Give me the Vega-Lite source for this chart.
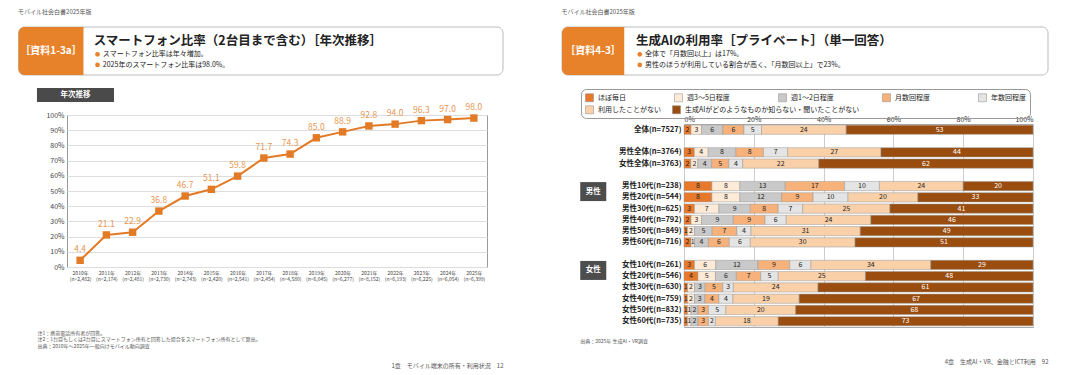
{
  "$schema": "https://vega.github.io/schema/vega-lite/v6.json",
  "background": "white",
  "padding": {"left": 18, "top": 8, "right": 5, "bottom": 5},
  "config": {
    "font": "Noto Sans CJK JP",
    "view": {"stroke": null},
    "title": {"font": "Noto Sans CJK JP", "subtitleFont": "Noto Sans CJK JP"},
    "axis": {"labelFont": "Noto Sans CJK JP", "titleFont": "Noto Sans CJK JP"},
    "legend": {"labelFont": "Noto Sans CJK JP", "titleFont": "Noto Sans CJK JP"},
    "text": {"font": "Noto Sans CJK JP"}
  },
  "datasets": {
    "headL": [{"tag": "［資料1-3a］", "title": "スマートフォン比率（2台目まで含む）［年次推移］", "b1": "スマートフォン比率は年々増加。", "b2": "2025年のスマートフォン比率は98.0%。", "sub": "年次推移"}],
    "headR": [{"tag": "［資料4-3］", "title": "生成AIの利用率［プライベート］（単一回答）", "b1": "全体で「月数回以上」は17%。", "b2": "男性のほうが利用している割合が高く、「月数回以上」で23%。"}],
    "smart": [
      {"x": "2010年|(n=2,482)", "v": 4.4},
      {"x": "2011年|(n=2,174)", "v": 21.1},
      {"x": "2012年|(n=2,481)", "v": 22.9},
      {"x": "2013年|(n=2,730)", "v": 36.8},
      {"x": "2014年|(n=2,743)", "v": 46.7},
      {"x": "2015年|(n=2,420)", "v": 51.1},
      {"x": "2016年|(n=2,541)", "v": 59.8},
      {"x": "2017年|(n=2,454)", "v": 71.7},
      {"x": "2018年|(n=4,580)", "v": 74.3},
      {"x": "2019年|(n=6,045)", "v": 85.0},
      {"x": "2020年|(n=6,277)", "v": 88.9},
      {"x": "2021年|(n=8,152)", "v": 92.8},
      {"x": "2022年|(n=6,193)", "v": 94.0},
      {"x": "2023年|(n=6,225)", "v": 96.3},
      {"x": "2024年|(n=6,054)", "v": 97.0},
      {"x": "2025年|(n=6,399)", "v": 98.0}
    ],
    "cats": [
      {"c": "ほぼ毎日", "k": 0},
      {"c": "週3～5日程度", "k": 1},
      {"c": "週1～2日程度", "k": 2},
      {"c": "月数回程度", "k": 3},
      {"c": "年数回程度", "k": 4},
      {"c": "利用したことがない", "k": 5},
      {"c": "生成AIがどのようなものか知らない・聞いたことがない", "k": 6}
    ],
    "ai": [
      {"g": "全体(n=7527)", "ほぼ毎日": 2, "週3～5日程度": 3, "週1～2日程度": 6, "月数回程度": 6, "年数回程度": 5, "利用したことがない": 24, "生成AIがどのようなものか知らない・聞いたことがない": 53},
      {"g": "男性全体(n=3764)", "ほぼ毎日": 3, "週3～5日程度": 4, "週1～2日程度": 8, "月数回程度": 8, "年数回程度": 7, "利用したことがない": 27, "生成AIがどのようなものか知らない・聞いたことがない": 44},
      {"g": "女性全体(n=3763)", "ほぼ毎日": 2, "週3～5日程度": 2, "週1～2日程度": 4, "月数回程度": 5, "年数回程度": 4, "利用したことがない": 22, "生成AIがどのようなものか知らない・聞いたことがない": 62},
      {"g": "男性10代(n=238)", "ほぼ毎日": 8, "週3～5日程度": 8, "週1～2日程度": 13, "月数回程度": 17, "年数回程度": 10, "利用したことがない": 24, "生成AIがどのようなものか知らない・聞いたことがない": 20},
      {"g": "男性20代(n=544)", "ほぼ毎日": 8, "週3～5日程度": 8, "週1～2日程度": 12, "月数回程度": 9, "年数回程度": 10, "利用したことがない": 20, "生成AIがどのようなものか知らない・聞いたことがない": 33},
      {"g": "男性30代(n=625)", "ほぼ毎日": 3, "週3～5日程度": 7, "週1～2日程度": 9, "月数回程度": 8, "年数回程度": 7, "利用したことがない": 25, "生成AIがどのようなものか知らない・聞いたことがない": 41},
      {"g": "男性40代(n=792)", "ほぼ毎日": 2, "週3～5日程度": 3, "週1～2日程度": 9, "月数回程度": 9, "年数回程度": 6, "利用したことがない": 24, "生成AIがどのようなものか知らない・聞いたことがない": 46},
      {"g": "男性50代(n=849)", "ほぼ毎日": 1, "週3～5日程度": 2, "週1～2日程度": 5, "月数回程度": 7, "年数回程度": 4, "利用したことがない": 31, "生成AIがどのようなものか知らない・聞いたことがない": 49},
      {"g": "男性60代(n=716)", "ほぼ毎日": 2, "週3～5日程度": 1, "週1～2日程度": 4, "月数回程度": 6, "年数回程度": 6, "利用したことがない": 30, "生成AIがどのようなものか知らない・聞いたことがない": 51},
      {"g": "女性10代(n=261)", "ほぼ毎日": 3, "週3～5日程度": 6, "週1～2日程度": 12, "月数回程度": 9, "年数回程度": 6, "利用したことがない": 34, "生成AIがどのようなものか知らない・聞いたことがない": 29},
      {"g": "女性20代(n=546)", "ほぼ毎日": 4, "週3～5日程度": 5, "週1～2日程度": 6, "月数回程度": 7, "年数回程度": 5, "利用したことがない": 25, "生成AIがどのようなものか知らない・聞いたことがない": 48},
      {"g": "女性30代(n=630)", "ほぼ毎日": 1, "週3～5日程度": 2, "週1～2日程度": 3, "月数回程度": 5, "年数回程度": 3, "利用したことがない": 24, "生成AIがどのようなものか知らない・聞いたことがない": 61},
      {"g": "女性40代(n=759)", "ほぼ毎日": 1, "週3～5日程度": 2, "週1～2日程度": 3, "月数回程度": 4, "年数回程度": 4, "利用したことがない": 19, "生成AIがどのようなものか知らない・聞いたことがない": 67},
      {"g": "女性50代(n=832)", "ほぼ毎日": 1, "週3～5日程度": 1, "週1～2日程度": 2, "月数回程度": 3, "年数回程度": 5, "利用したことがない": 20, "生成AIがどのようなものか知らない・聞いたことがない": 68},
      {"g": "女性60代(n=735)", "ほぼ毎日": 1, "週3～5日程度": 1, "週1～2日程度": 2, "月数回程度": 3, "年数回程度": 2, "利用したことがない": 18, "生成AIがどのようなものか知らない・聞いたことがない": 73}
    ],
    "grp": [
      {"grp": "男性", "at": "男性10代(n=238)"},
      {"grp": "女性", "at": "女性10代(n=261)"}
    ]
  },
  "spacing": 57,
  "resolve": {"scale": {"color": "independent"}, "legend": {"color": "independent"}},
  "hconcat": [
    {
      "title": {"text": "1章　モバイル端末の所有・利用状況　12", "orient": "bottom", "anchor": "end", "frame": "bounds", "fontSize": 6, "fontWeight": "normal", "color": "#555", "offset": 14},
      "spacing": 0,
      "vconcat": [
        {
          "width": 436,
          "height": 48,
          "title": {"text": "モバイル社会白書2025年版", "anchor": "start", "frame": "bounds", "fontSize": 6, "fontWeight": "normal", "color": "#555", "offset": 12},
          "data": {"name": "headL"},
          "layer": [
            {"mark": {"type": "rect", "fill": "white", "stroke": "#bbb", "strokeWidth": 1, "cornerRadius": 6},
             "encoding": {"x": {"datum": 0, "type": "quantitative", "scale": {"domain": [0.1, 1], "nice": false, "zero": false}, "axis": null}, "x2": {"datum": 1}, "y": {"datum": 0, "type": "quantitative", "scale": {"domain": [0, 1], "nice": false, "zero": false}, "axis": null}, "y2": {"datum": 1}}},
            {"mark": {"type": "rect", "fill": "#E8822A", "cornerRadiusTopLeft": 6, "cornerRadiusBottomLeft": 6},
             "encoding": {"x": {"datum": 0, "type": "quantitative", "axis": null}, "x2": {"datum": 0.134}, "y": {"datum": 0, "type": "quantitative", "axis": null}, "y2": {"datum": 1}}},
            {"mark": {"type": "text", "color": "white", "fontSize": 10, "fontWeight": "bold"},
             "encoding": {"x": {"datum": 0.067, "type": "quantitative", "axis": null}, "y": {"datum": 0.5, "type": "quantitative", "axis": null}, "text": {"field": "tag"}}},
            {"mark": {"type": "text", "align": "left", "baseline": "middle", "fontSize": 12.5, "fontWeight": "bold", "color": "#222"},
             "encoding": {"x": {"datum": 0.155, "type": "quantitative", "axis": null}, "y": {"datum": 0.71, "type": "quantitative", "axis": null}, "text": {"field": "title"}}},
            {"mark": {"type": "point", "filled": true, "opacity": 1, "size": 22, "color": "#E8822A"},
             "encoding": {"x": {"datum": 0.163, "type": "quantitative", "axis": null}, "y": {"datum": 0.43, "type": "quantitative", "axis": null}}},
            {"mark": {"type": "point", "filled": true, "opacity": 1, "size": 22, "color": "#E8822A"},
             "encoding": {"x": {"datum": 0.163, "type": "quantitative", "axis": null}, "y": {"datum": 0.21, "type": "quantitative", "axis": null}}},
            {"mark": {"type": "text", "align": "left", "baseline": "middle", "fontSize": 7, "color": "#222"},
             "encoding": {"x": {"datum": 0.174, "type": "quantitative", "axis": null}, "y": {"datum": 0.43, "type": "quantitative", "axis": null}, "text": {"field": "b1"}}},
            {"mark": {"type": "text", "align": "left", "baseline": "middle", "fontSize": 7, "color": "#222"},
             "encoding": {"x": {"datum": 0.174, "type": "quantitative", "axis": null}, "y": {"datum": 0.21, "type": "quantitative", "axis": null}, "text": {"field": "b2"}}},
            {"mark": {"type": "rect", "fill": "#4a4a4a"},
             "encoding": {"x": {"datum": 0.038, "type": "quantitative", "axis": null}, "x2": {"datum": 0.197}, "y": {"datum": -0.271, "type": "quantitative", "axis": null}, "y2": {"datum": -0.5625}}},
            {"mark": {"type": "text", "color": "white", "fontSize": 7.5, "fontWeight": "bold", "baseline": "middle"},
             "encoding": {"x": {"datum": 0.1175, "type": "quantitative", "axis": null}, "y": {"datum": -0.417, "type": "quantitative", "axis": null}, "text": {"field": "sub"}}}
          ]
        },
        {
          "width": 420,
          "height": 152,
          "view": {"stroke": "#999"},
          "data": {"name": "smart"},
          "encoding": {
            "x": {"field": "x", "type": "ordinal", "sort": null, "scale": {"type": "point", "padding": 0.5},
                  "axis": {"labelExpr": "split(datum.label, '|')", "labelAngle": 0, "labelFontSize": 5, "labelLineHeight": 6, "labelColor": "#444", "ticks": false, "domain": false, "labelPadding": 3,
                           "title": ["注1：携帯電話所有者が回答。", "注2：1台目もしくは2台目にスマートフォン所有と回答した場合をスマートフォン所有として算出。", "出典：2010年～2025年一般向けモバイル動向調査"],
                           "titleX": -30, "titleAlign": "left", "titleAnchor": "start", "titleFontSize": 5, "titleFontWeight": "normal", "titleColor": "#555", "titlePadding": 49, "titleLineHeight": 6.5}},
            "y": {"field": "v", "type": "quantitative", "scale": {"domain": [0, 100]},
                  "axis": {"values": [0, 10, 20, 30, 40, 50, 60, 70, 80, 90, 100], "labelExpr": "datum.value + '%'", "labelFontSize": 7, "labelColor": "#444", "gridColor": "#ddd", "ticks": false, "domain": false, "title": null, "labelPadding": 3}}
          },
          "layer": [
            {"mark": {"type": "line", "color": "#E37A25", "strokeWidth": 2}},
            {"mark": {"type": "point", "shape": "square", "filled": true, "opacity": 1, "size": 55, "color": "#E37A25"}},
            {"mark": {"type": "text", "dy": -11, "fontSize": 8.5, "color": "#E8954F"},
             "encoding": {"text": {"field": "v", "type": "quantitative", "format": ".1f"}}}
          ]
        }
      ]
    },
    {
      "title": {"text": "4章　生成AI・VR、金融とICT利用　92", "orient": "bottom", "anchor": "end", "frame": "bounds", "fontSize": 6, "fontWeight": "normal", "color": "#555", "offset": 14},
      "spacing": 12,
      "resolve": {"scale": {"color": "independent"}, "legend": {"color": "independent"}},
      "vconcat": [
        {
          "width": 364,
          "height": 48,
          "title": {"text": "モバイル社会白書2025年版", "anchor": "start", "frame": "bounds", "fontSize": 6, "fontWeight": "normal", "color": "#555", "offset": 12},
          "data": {"name": "headR"},
          "layer": [
            {"mark": {"type": "rect", "fill": "white", "stroke": "#bbb", "strokeWidth": 1, "cornerRadius": 6},
             "encoding": {"x": {"datum": 0, "type": "quantitative", "scale": {"domain": [0.251, 1], "nice": false, "zero": false}, "axis": null}, "x2": {"datum": 1}, "y": {"datum": 0, "type": "quantitative", "scale": {"domain": [0, 1], "nice": false}, "axis": null}, "y2": {"datum": 1}}},
            {"mark": {"type": "rect", "fill": "#E8822A", "cornerRadiusTopLeft": 6, "cornerRadiusBottomLeft": 6},
             "encoding": {"x": {"datum": 0, "type": "quantitative", "axis": null}, "x2": {"datum": 0.128}, "y": {"datum": 0, "type": "quantitative", "axis": null}, "y2": {"datum": 1}}},
            {"mark": {"type": "text", "color": "white", "fontSize": 10, "fontWeight": "bold"},
             "encoding": {"x": {"datum": 0.064, "type": "quantitative", "axis": null}, "y": {"datum": 0.5, "type": "quantitative", "axis": null}, "text": {"field": "tag"}}},
            {"mark": {"type": "text", "align": "left", "baseline": "middle", "fontSize": 12.5, "fontWeight": "bold", "color": "#222"},
             "encoding": {"x": {"datum": 0.152, "type": "quantitative", "axis": null}, "y": {"datum": 0.71, "type": "quantitative", "axis": null}, "text": {"field": "title"}}},
            {"mark": {"type": "point", "filled": true, "opacity": 1, "size": 22, "color": "#E8822A"},
             "encoding": {"x": {"datum": 0.16, "type": "quantitative", "axis": null}, "y": {"datum": 0.43, "type": "quantitative", "axis": null}}},
            {"mark": {"type": "point", "filled": true, "opacity": 1, "size": 22, "color": "#E8822A"},
             "encoding": {"x": {"datum": 0.16, "type": "quantitative", "axis": null}, "y": {"datum": 0.21, "type": "quantitative", "axis": null}}},
            {"mark": {"type": "text", "align": "left", "baseline": "middle", "fontSize": 7, "color": "#222"},
             "encoding": {"x": {"datum": 0.171, "type": "quantitative", "axis": null}, "y": {"datum": 0.43, "type": "quantitative", "axis": null}, "text": {"field": "b1"}}},
            {"mark": {"type": "text", "align": "left", "baseline": "middle", "fontSize": 7, "color": "#222"},
             "encoding": {"x": {"datum": 0.171, "type": "quantitative", "axis": null}, "y": {"datum": 0.21, "type": "quantitative", "axis": null}, "text": {"field": "b2"}}}
          ]
        },
        {
          "width": 349,
          "height": 203,
          "view": {"stroke": "#aaa"},
          "title": {"text": "出典：2025年 生成AI・VR調査", "orient": "bottom", "anchor": "start", "frame": "bounds", "fontSize": 5, "fontWeight": "normal", "color": "#555", "offset": 12},
          "layer": [
            {
              "data": {"name": "ai"},
              "transform": [
                {"fold": ["ほぼ毎日", "週3～5日程度", "週1～2日程度", "月数回程度", "年数回程度", "利用したことがない", "生成AIがどのようなものか知らない・聞いたことがない"], "as": ["c", "v"]},
                {"lookup": "c", "from": {"data": {"name": "cats"}, "key": "c", "fields": ["k"]}}
              ],
              "resolve": {"scale": {"color": "independent"}, "legend": {"color": "independent"}},
              "encoding": {
                "y": {"field": "g", "type": "nominal",
                      "scale": {"domain": ["全体(n=7527)", "sp1", "男性全体(n=3764)", "女性全体(n=3763)", "sp2", "男性10代(n=238)", "男性20代(n=544)", "男性30代(n=625)", "男性40代(n=792)", "男性50代(n=849)", "男性60代(n=716)", "sp3", "女性10代(n=261)", "女性20代(n=546)", "女性30代(n=630)", "女性40代(n=759)", "女性50代(n=832)", "女性60代(n=735)"], "paddingInner": 0.18, "paddingOuter": 0.1},
                      "axis": {"title": null, "labelExpr": "indexof(datum.label, 'sp') == 0 ? '' : datum.label", "ticks": false, "domain": false, "labelFontSize": 7.5, "labelColor": "#222", "labelFontWeight": "bold", "labelPadding": 3}},
                "x": {"field": "v", "type": "quantitative", "stack": "normalize", "scale": {"domain": [0, 1]},
                      "axis": {"orient": "top", "format": "%", "values": [0, 0.2, 0.4, 0.6, 0.8, 1], "title": null, "labelFontSize": 7, "labelColor": "#333", "ticks": false, "domain": false, "gridColor": "#ccc", "labelPadding": 2}},
                "order": {"field": "k", "type": "quantitative"}
              },
              "layer": [
                {
                  "mark": {"type": "bar", "stroke": "#999", "strokeWidth": 0.5},
                  "encoding": {
                    "color": {"field": "c", "type": "nominal",
                              "scale": {"domain": ["ほぼ毎日", "週3～5日程度", "週1～2日程度", "月数回程度", "年数回程度", "利用したことがない", "生成AIがどのようなものか知らない・聞いたことがない"],
                                        "range": ["#E8792B", "#FDEBD8", "#C9C9C9", "#F6B27A", "#E4E4E4", "#FAD0A8", "#9A4D0E"]},
                              "legend": {"title": "　", "titleOrient": "bottom", "titleFontSize": 8, "titlePadding": 3, "values": ["ほぼ毎日", "週3～5日程度", "週1～2日程度", "月数回程度", "年数回程度"], "orient": "none", "legendX": -103, "legendY": -35, "direction": "horizontal", "columns": 5, "symbolType": "square", "symbolSize": 64, "labelFontSize": 7, "labelColor": "#222", "strokeColor": "#999", "cornerRadius": 5, "padding": 4, "columnPadding": 47, "symbolStrokeColor": "#888", "symbolStrokeWidth": 0.5, "labelLimit": 300}}
                  }
                },
                {
                  "mark": {"type": "text", "fontSize": 7},
                  "encoding": {
                    "x": {"field": "v", "type": "quantitative", "stack": "normalize", "bandPosition": 0.5},
                    "detail": {"field": "c"},
                    "text": {"field": "v", "type": "quantitative"},
                    "color": {"condition": {"test": "datum.k == 6", "value": "white"}, "value": "#222"}
                  }
                },
                {
                  "transform": [{"filter": "datum.k >= 5"}],
                  "mark": {"type": "point", "filled": true, "opacity": 0, "size": 1},
                  "encoding": {
                    "color": {"field": "c", "type": "nominal",
                              "scale": {"domain": ["利用したことがない", "生成AIがどのようなものか知らない・聞いたことがない"], "range": ["#FAD0A8", "#9A4D0E"]},
                              "legend": {"title": null, "orient": "none", "legendX": -103, "legendY": -23, "direction": "horizontal", "columns": 2, "symbolType": "square", "symbolSize": 64, "symbolOpacity": 1, "labelFontSize": 7, "labelColor": "#222", "padding": 4, "columnPadding": 10, "symbolStrokeColor": "#888", "symbolStrokeWidth": 0.5, "labelLimit": 300}}
                  }
                }
              ]
            },
            {
              "data": {"name": "grp"},
              "encoding": {
                "y": {"field": "at", "type": "nominal", "axis": {"title": null}},
                "x": {"datum": -0.26, "type": "quantitative", "axis": {"title": null}}
              },
              "layer": [
                {"mark": {"type": "point", "shape": "M-1.37,-0.42L1.37,-0.42L1.37,1.58L-1.37,1.58Z", "size": 361, "filled": true, "opacity": 1, "color": "#4d4d4d"}},
                {"mark": {"type": "text", "color": "white", "fontSize": 7.5, "fontWeight": "bold", "dy": 5.5}, "encoding": {"text": {"field": "grp"}}}
              ]
            }
          ]
        }
      ]
    }
  ]
}
